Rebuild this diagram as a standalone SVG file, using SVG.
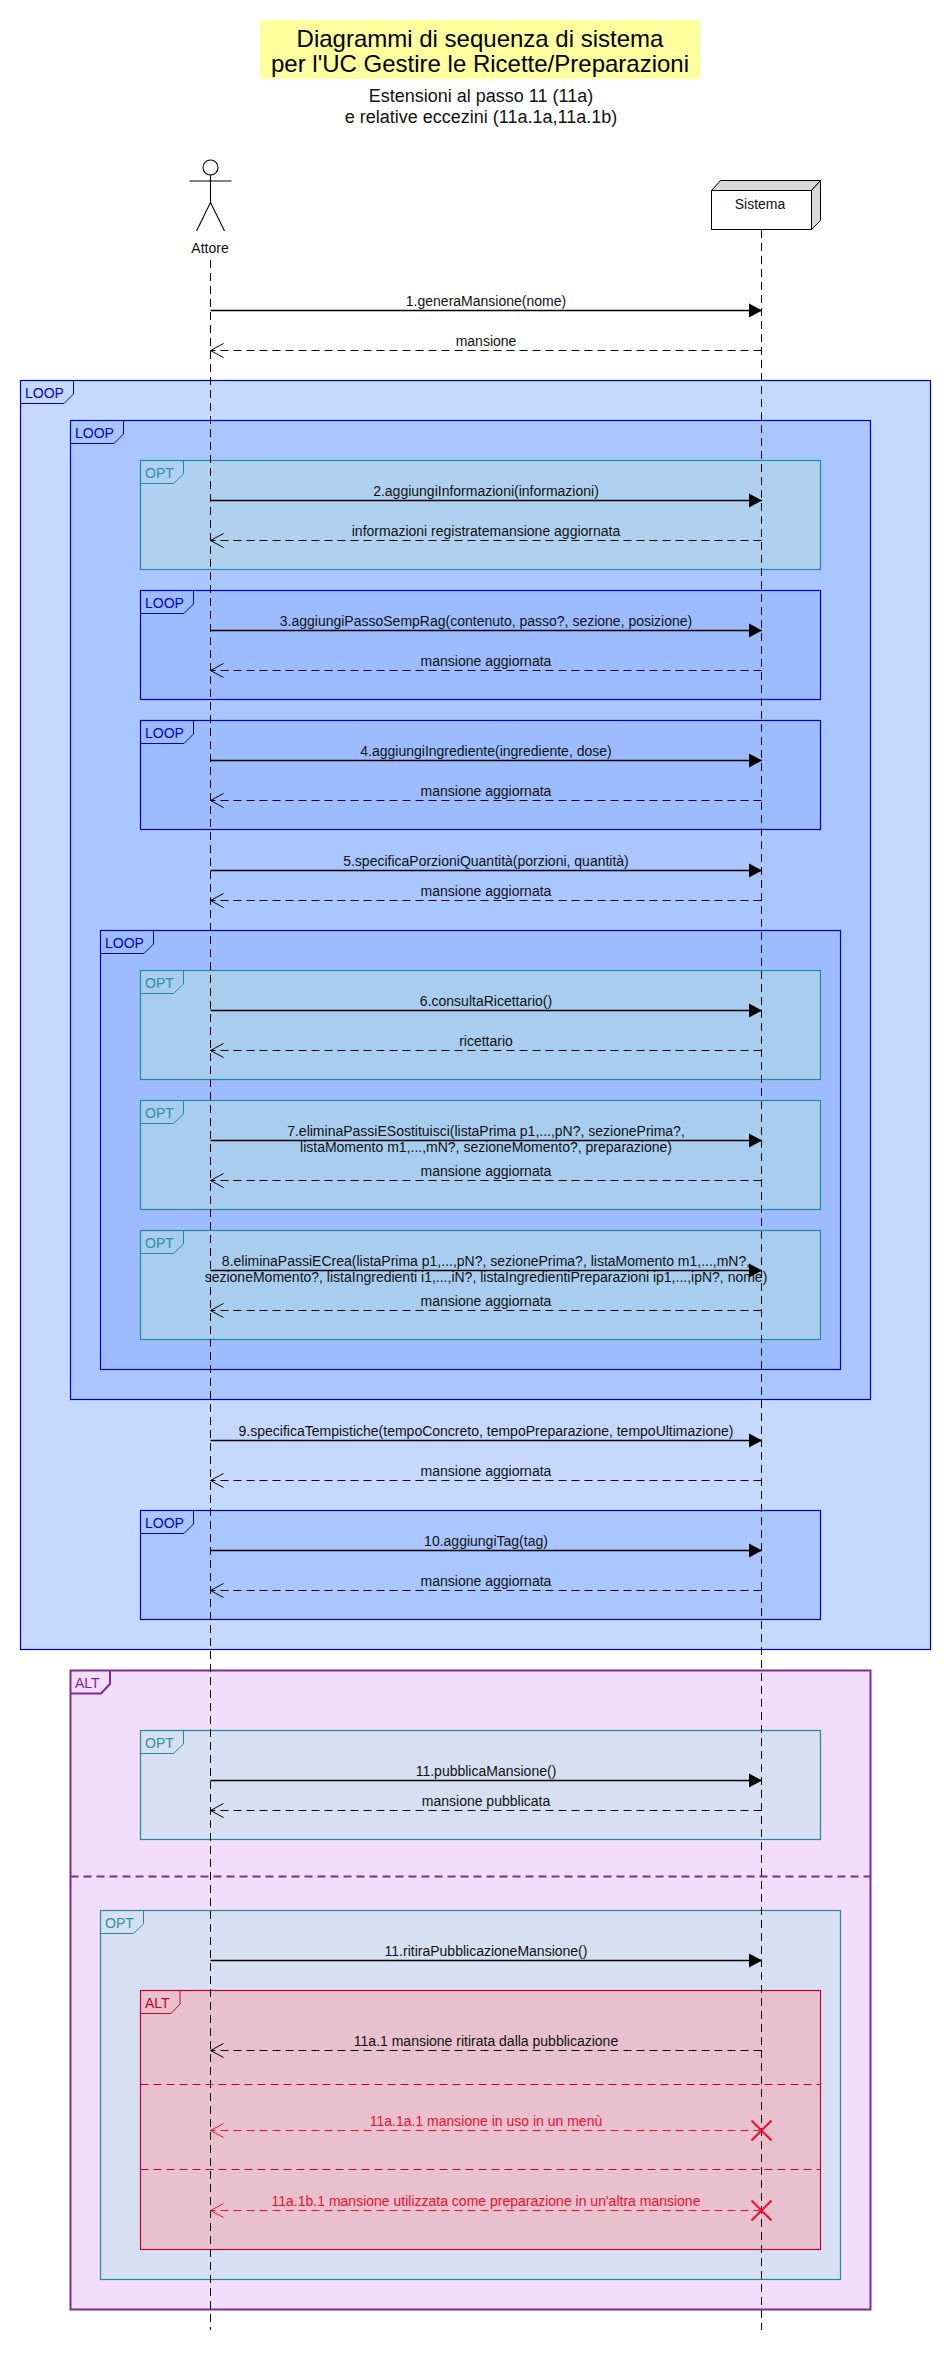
<svg xmlns="http://www.w3.org/2000/svg" width="950" height="2370" viewBox="0 0 950 2370">
<style>
text{font-family:"Liberation Sans",Arial,sans-serif;font-size:14px;fill:#111}
.m{text-anchor:middle}
.title{font-size:24px;text-anchor:middle;fill:#000}
.sub{font-size:18px;text-anchor:middle;fill:#111}
.msg{font-size:14px;text-anchor:middle;fill:#111}
.red{fill:#f01030}
.ll{stroke:#000;stroke-width:1;stroke-dasharray:8 5;fill:none}
.call{stroke:#000;stroke-width:1.3;fill:none;marker-end:url(#solid)}
.ret{stroke:#000;stroke-width:1;stroke-dasharray:8 5;fill:none;marker-end:url(#open)}
.retr{stroke:#f01030;stroke-width:1;stroke-dasharray:8 5;fill:none;marker-end:url(#openr)}
.cross{stroke:#f01030;stroke-width:2;fill:none}
.loop1{fill:#c5d9ff;stroke:#0000b8;stroke-width:1.2}
.loop2{fill:#a9c6ff;stroke:#0000b8;stroke-width:1.2}
.loop3{fill:#9cbcff;stroke:#0000b8;stroke-width:1.2}
.opt1{fill:#afd1ef;stroke:#23899c;stroke-width:1.2}
.opt2{fill:#a8cdef;stroke:#23899c;stroke-width:1.2}
.opt3{fill:#d6e0f2;stroke:#23899c;stroke-width:1.2}
.alt{fill:#f2ddfd;stroke:#7b2d94;stroke-width:2}
.altr{fill:#e9c1ce;stroke:#c00038;stroke-width:1.2}
.tb{fill:none;stroke:#0000b8;stroke-width:1}
.tt{fill:none;stroke:#23899c;stroke-width:1}
.tp{fill:none;stroke:#7b2d94;stroke-width:2}
.tr{fill:none;stroke:#c00038;stroke-width:1}
.lb{fill:#0000d0}
.lt{fill:#2f8f9f}
.lp{fill:#7b1fa2}
.lr{fill:#c00030}
.dp{stroke:#7b2d94;stroke-width:2;stroke-dasharray:8 5;fill:none}
.dr{stroke:#c00038;stroke-width:1;stroke-dasharray:8 5;fill:none}
.ln{fill:none;stroke:#000;stroke-width:1.1}
</style>
<defs>
<marker id="solid" markerUnits="userSpaceOnUse" markerWidth="14" markerHeight="16" refX="13" refY="7" orient="auto" overflow="visible"><path d="M0 0L13 7L0 14Z" fill="#000"/></marker>
<marker id="open" markerUnits="userSpaceOnUse" markerWidth="15" markerHeight="16" refX="13" refY="7" orient="auto" overflow="visible"><path d="M0 0L13 7L0 14" fill="none" stroke="#000" stroke-width="1"/></marker>
<marker id="openr" markerUnits="userSpaceOnUse" markerWidth="15" markerHeight="16" refX="13" refY="7" orient="auto" overflow="visible"><path d="M0 0L13 7L0 14" fill="none" stroke="#f01030" stroke-width="1"/></marker>
</defs>
<rect width="950" height="2370" fill="#fff"/>
<g id="title">
<rect x="260" y="20" width="440" height="59" fill="#ffff9e"/>
<text class="title" x="480" y="47">Diagrammi di sequenza di sistema</text>
<text class="title" x="480" y="72">per l'UC Gestire le Ricette/Preparazioni</text>
<text class="sub" x="481" y="102">Estensioni al passo 11 (11a)</text>
<text class="sub" x="481" y="122.5">e relative eccezini (11a.1a,11a.1b)</text>
</g>
<g id="frag-loop-outer"><rect class="loop1" x="20.5" y="380.5" width="910" height="1269"/><path class="tb" d="M20.5 403.5H64L73.5 394V380.5"/><text class="lb" x="25" y="398">LOOP</text></g>
<g id="frag-loop-inner"><rect class="loop2" x="70.5" y="420.5" width="800" height="979"/><path class="tb" d="M70.5 443.5H114L123.5 434V420.5"/><text class="lb" x="75" y="438">LOOP</text></g>
<g id="frag-opt-2"><rect class="opt1" x="140.5" y="460.5" width="680" height="109"/><path class="tt" d="M140.5 483.5H173.5L183.5 474V460.5"/><text class="lt" x="145" y="478">OPT</text></g>
<g id="frag-loop-3"><rect class="loop3" x="140.5" y="590.5" width="680" height="109"/><path class="tb" d="M140.5 613.5H184L193.5 604V590.5"/><text class="lb" x="145" y="608">LOOP</text></g>
<g id="frag-loop-4"><rect class="loop3" x="140.5" y="720.5" width="680" height="109"/><path class="tb" d="M140.5 743.5H184L193.5 734V720.5"/><text class="lb" x="145" y="738">LOOP</text></g>
<g id="frag-loop-678"><rect class="loop3" x="100.5" y="930.5" width="740" height="439"/><path class="tb" d="M100.5 953.5H144L153.5 944V930.5"/><text class="lb" x="105" y="948">LOOP</text></g>
<g id="frag-opt-6"><rect class="opt2" x="140.5" y="970.5" width="680" height="109"/><path class="tt" d="M140.5 993.5H173.5L183.5 984V970.5"/><text class="lt" x="145" y="988">OPT</text></g>
<g id="frag-opt-7"><rect class="opt2" x="140.5" y="1100.5" width="680" height="109"/><path class="tt" d="M140.5 1123.5H173.5L183.5 1114V1100.5"/><text class="lt" x="145" y="1118">OPT</text></g>
<g id="frag-opt-8"><rect class="opt2" x="140.5" y="1230.5" width="680" height="109"/><path class="tt" d="M140.5 1253.5H173.5L183.5 1244V1230.5"/><text class="lt" x="145" y="1248">OPT</text></g>
<g id="frag-loop-10"><rect class="loop2" x="140.5" y="1510.5" width="680" height="109"/><path class="tb" d="M140.5 1533.5H184L193.5 1524V1510.5"/><text class="lb" x="145" y="1528">LOOP</text></g>
<g id="frag-alt-outer"><rect class="alt" x="70.5" y="1670.5" width="800" height="639"/><path class="tp" d="M70.5 1693.5H101L110 1684V1670.5"/><text class="lp" x="75" y="1688">ALT</text><path class="dp" d="M70.5 1876.5H870.5"/></g>
<g id="frag-opt-11"><rect class="opt3" x="140.5" y="1730.5" width="680" height="109"/><path class="tt" d="M140.5 1753.5H173.5L183.5 1744V1730.5"/><text class="lt" x="145" y="1748">OPT</text></g>
<g id="frag-opt-11a"><rect class="opt3" x="100.5" y="1910.5" width="740" height="369"/><path class="tt" d="M100.5 1933.5H133.5L143.5 1924V1910.5"/><text class="lt" x="105" y="1928">OPT</text></g>
<g id="frag-alt-11a"><rect class="altr" x="140.5" y="1990.5" width="680" height="259"/><path class="tr" d="M140.5 2013.5H171L180 2004V1990.5"/><text class="lr" x="145" y="2008">ALT</text><path class="dr" d="M140.5 2084.5H820.5M140.5 2169.5H820.5"/></g>
<g id="Attore">
<ellipse class="ln" cx="210.5" cy="167.5" rx="7.5" ry="7.5"/>
<path class="ln" d="M210.5 175V202.5M189.5 181H231.5M210.5 202.5L196.5 231M210.5 202.5L224.5 231"/>
<text class="m" x="210" y="252.5">Attore</text>
</g>
<g id="Sistema">
<path d="M711.5 190.5L720.5 180.5H820.5L811.5 190.5Z" fill="#d8d8d8" stroke="#000"/>
<path d="M811.5 190.5L820.5 180.5V220.5L811.5 229.5Z" fill="#d8d8d8" stroke="#000"/>
<rect x="711.5" y="190.5" width="100" height="39" fill="#fff" stroke="#000"/>
<text class="m" x="760" y="208.5">Sistema</text>
</g>
<g id="connectors">
<path class="ll" d="M210.5 260V2330"/>
<path class="ll" d="M761.5 230V2330"/>
<line class="call" x1="210.5" y1="310.5" x2="762" y2="310.5"/><text class="msg" x="486" y="306">1.generaMansione(nome)</text>
<line class="ret" x1="761.5" y1="350.5" x2="210.5" y2="350.5"/><text class="msg" x="486" y="346">mansione</text>
<line class="call" x1="210.5" y1="500.5" x2="762" y2="500.5"/><text class="msg" x="486" y="496">2.aggiungiInformazioni(informazioni)</text>
<line class="ret" x1="761.5" y1="540.5" x2="210.5" y2="540.5"/><text class="msg" x="486" y="536">informazioni registratemansione aggiornata</text>
<line class="call" x1="210.5" y1="630.5" x2="762" y2="630.5"/><text class="msg" x="486" y="626">3.aggiungiPassoSempRag(contenuto, passo?, sezione, posizione)</text>
<line class="ret" x1="761.5" y1="670.5" x2="210.5" y2="670.5"/><text class="msg" x="486" y="666">mansione aggiornata</text>
<line class="call" x1="210.5" y1="760.5" x2="762" y2="760.5"/><text class="msg" x="486" y="756">4.aggiungiIngrediente(ingrediente, dose)</text>
<line class="ret" x1="761.5" y1="800.5" x2="210.5" y2="800.5"/><text class="msg" x="486" y="796">mansione aggiornata</text>
<line class="call" x1="210.5" y1="870.5" x2="762" y2="870.5"/><text class="msg" x="486" y="866">5.specificaPorzioniQuantità(porzioni, quantità)</text>
<line class="ret" x1="761.5" y1="900.5" x2="210.5" y2="900.5"/><text class="msg" x="486" y="896">mansione aggiornata</text>
<line class="call" x1="210.5" y1="1010.5" x2="762" y2="1010.5"/><text class="msg" x="486" y="1006">6.consultaRicettario()</text>
<line class="ret" x1="761.5" y1="1050.5" x2="210.5" y2="1050.5"/><text class="msg" x="486" y="1046">ricettario</text>
<line class="call" x1="210.5" y1="1140.5" x2="762" y2="1140.5"/><text class="msg" x="486" y="1136">7.eliminaPassiESostituisci(listaPrima p1,...,pN?, sezionePrima?,</text><text class="msg" x="486" y="1152">listaMomento m1,...,mN?, sezioneMomento?, preparazione)</text>
<line class="ret" x1="761.5" y1="1180.5" x2="210.5" y2="1180.5"/><text class="msg" x="486" y="1176">mansione aggiornata</text>
<line class="call" x1="210.5" y1="1270.5" x2="762" y2="1270.5"/><text class="msg" x="486" y="1266">8.eliminaPassiECrea(listaPrima p1,...,pN?, sezionePrima?, listaMomento m1,...,mN?,</text><text class="msg" x="486" y="1282">sezioneMomento?, listaIngredienti i1,...,iN?, listaIngredientiPreparazioni ip1,...,ipN?, nome)</text>
<line class="ret" x1="761.5" y1="1310.5" x2="210.5" y2="1310.5"/><text class="msg" x="486" y="1306">mansione aggiornata</text>
<line class="call" x1="210.5" y1="1440.5" x2="762" y2="1440.5"/><text class="msg" x="486" y="1436">9.specificaTempistiche(tempoConcreto, tempoPreparazione, tempoUltimazione)</text>
<line class="ret" x1="761.5" y1="1480.5" x2="210.5" y2="1480.5"/><text class="msg" x="486" y="1476">mansione aggiornata</text>
<line class="call" x1="210.5" y1="1550.5" x2="762" y2="1550.5"/><text class="msg" x="486" y="1546">10.aggiungiTag(tag)</text>
<line class="ret" x1="761.5" y1="1590.5" x2="210.5" y2="1590.5"/><text class="msg" x="486" y="1586">mansione aggiornata</text>
<line class="call" x1="210.5" y1="1780.5" x2="762" y2="1780.5"/><text class="msg" x="486" y="1776">11.pubblicaMansione()</text>
<line class="ret" x1="761.5" y1="1810.5" x2="210.5" y2="1810.5"/><text class="msg" x="486" y="1806">mansione pubblicata</text>
<line class="call" x1="210.5" y1="1960.5" x2="762" y2="1960.5"/><text class="msg" x="486" y="1956">11.ritiraPubblicazioneMansione()</text>
<line class="ret" x1="761.5" y1="2050.5" x2="210.5" y2="2050.5"/><text class="msg" x="486" y="2046">11a.1 mansione ritirata dalla pubblicazione</text>
<line class="retr" x1="761.5" y1="2130.5" x2="210.5" y2="2130.5"/><text class="msg red" x="486" y="2126">11a.1a.1 mansione in uso in un menù</text>
<path class="cross" d="M751.5 2120.5L771.5 2140.5M771.5 2120.5L751.5 2140.5"/>
<line class="retr" x1="761.5" y1="2210.5" x2="210.5" y2="2210.5"/><text class="msg red" x="486" y="2206">11a.1b.1 mansione utilizzata come preparazione in un'altra mansione</text>
<path class="cross" d="M751.5 2200.5L771.5 2220.5M771.5 2200.5L751.5 2220.5"/>
</g>
</svg>
